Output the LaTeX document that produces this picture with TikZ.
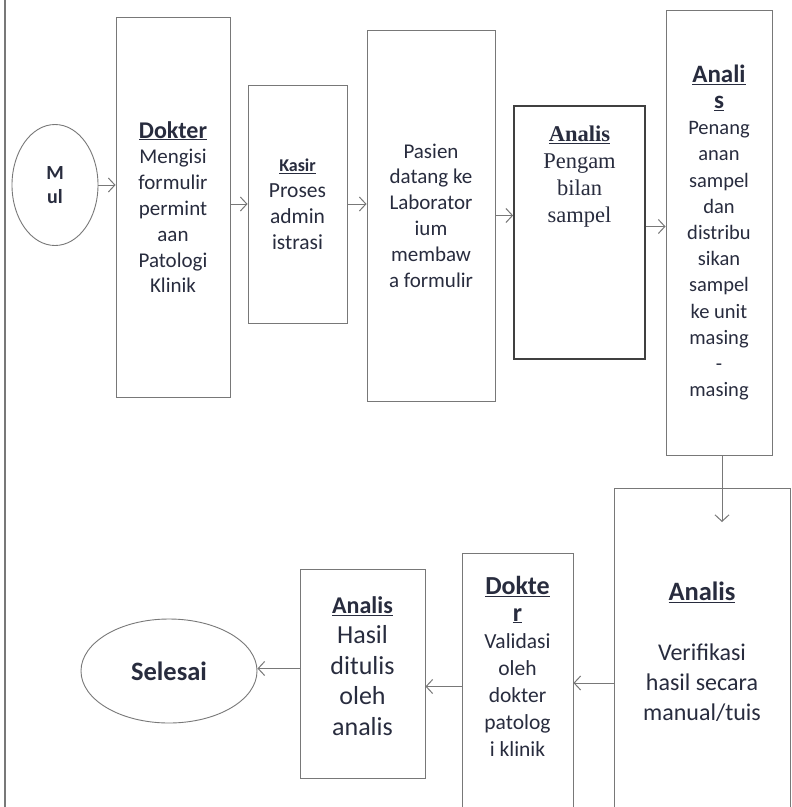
\documentclass[tikz,border=0pt]{standalone}
\usepackage{fontspec}
\setmainfont{Carlito}
\newfontfamily\serifbox{Liberation Serif}
\usetikzlibrary{shapes.geometric,arrows.meta}

\definecolor{linegray}{RGB}{120,120,120}
\definecolor{inkblue}{RGB}{40,44,62}

\newcommand{\hd}[1]{\underline{\textbf{#1}}}
\newcommand{\fs}[2]{\fontsize{#1}{#2}\selectfont}

\tikzset{
  box/.style={draw=linegray, line width=0.9pt, fill=white, text=inkblue, align=center, inner sep=2pt},
  oval/.style={ellipse, draw=linegray, line width=0.9pt, text=inkblue, align=center, inner sep=0pt},
  txt/.style={text=inkblue, align=center, inner sep=0pt},
  arr/.style={draw=linegray, line width=1pt, -{Straight Barb[length=6.5pt,width=14pt,line width=1pt]}}
}

\begin{document}
\begin{tikzpicture}[x=1pt, y=-1pt]
			\useasboundingbox[fill=white] (0,0) rectangle (792,807);
			% frame edge on the left
			\draw[linegray, line width=1.4pt] (5,0) -- (5,807);

			% top row
			\node[oval, minimum width=86pt, minimum height=121pt, font=\fs{20}{24}\bfseries] (mul) at (55,185) {M\\ul};
			\node[box, minimum width=114pt, minimum height=380pt, font=\fs{21}{25.8}] (dokter) at (173,207)
				{{\fs{24}{26}\hd{Dokter}}\\Mengisi\\formulir\\permint\\aan\\Patologi\\Klinik};
			\node[box, minimum width=99pt, minimum height=238pt, font=\fs{21.5}{26}] (kasir) at (297.5,204)
				{{\fs{18}{26}\hd{Kasir}}\\Proses\\admin\\istrasi};
			\node[box, minimum width=128pt, minimum height=371pt, font=\fs{21}{25.8}] (pasien) at (431,215.5)
				{Pasien\\datang ke\\Laborator\\ium\\membaw\\a formulir};
			\node[box, line width=1.7pt, draw=black!75, minimum width=131pt, minimum height=253pt] (ambil) at (579.5,232.5) {};
			\node[txt, anchor=north, font=\serifbox\fs{22.5}{27}] (ambilt) at (579.5,126)
				{\hd{Analis}\\Pengam\\bilan\\sampel};
			\node[box, minimum width=106pt, minimum height=445pt, font=\fs{20.5}{26.2}] (tangani) at (719,232.5)
				{{\fs{25}{30}\hd{Anali}}\\{\fs{25}{30}\hd{s}}\\Penang\\anan\\sampel\\dan\\distribu\\sikan\\sampel\\ke unit\\masing\\-\\masing};

			% bottom row (boxes run past the lower edge)
			\node[box, minimum width=176pt, minimum height=352pt] (verif) at (702,664) {};
			\node[txt, font=\fs{24}{30}] (veriftxt) at (702,652)
				{{\fs{26.5}{30}\hd{Analis}}\\[30pt]Verifikasi\\hasil secara\\manual/tuis};
			\node[box, minimum width=111pt, minimum height=290pt] (validasi) at (517.5,698) {};
			\node[txt, font=\fs{21.5}{27}] (validasitxt) at (517.5,666)
				{{\fs{26}{30}\hd{Dokte}}\\{\fs{26}{30}\hd{r}}\\Validasi\\oleh\\dokter\\patolog\\i klinik};
			\node[box, minimum width=125pt, minimum height=209pt] (hasil) at (362.5,673.5) {};
			\node[txt, font=\fs{26}{30.5}] (hasiltxt) at (362.5,666)
				{{\fs{24}{30.5}\hd{Analis}}\\Hasil\\ditulis\\oleh\\analis};
			\node[oval, minimum width=176pt, minimum height=104pt, font=\fs{26.5}{30}\bfseries] (selesai) at (169,671) {Selesai};

			% connectors
			\draw[arr] (mul.east) -- (mul.east -| dokter.west);
			\draw[arr] (dokter.east |- kasir) -- (kasir.west);
			\draw[arr] (kasir.east) -- (kasir.east -| pasien.west);
			\draw[arr] (pasien.east) -- (pasien.east -| ambil.west);
			\draw[arr] ([yshift=6pt]ambil.east) -- ([yshift=6pt]ambil.east -| tangani.west);
			\coordinate (turun) at (722,522);
			\draw[arr] (tangani.south -| turun) -- (turun);
			\draw[arr] ([yshift=-19pt]verif.west) -- ([yshift=-19pt]verif.west -| validasi.east);
			\draw[arr] ([yshift=-13pt]validasi.west |- hasil) -- ([yshift=-13pt]hasil.east);
			\draw[arr] ([yshift=5pt]hasil.west) -- ([yshift=5pt]hasil.west -| selesai.east);
		\end{tikzpicture}
\end{document}
